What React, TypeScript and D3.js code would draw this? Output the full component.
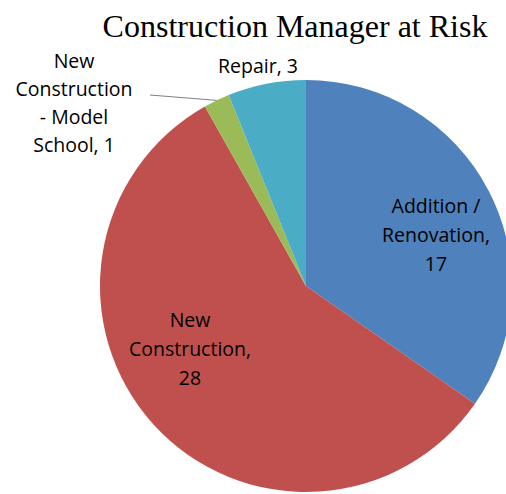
import React from "react";
import * as d3 from "d3";

const categories = [
  "Addition / Renovation",
  "New Construction",
  "New Construction - Model School",
  "Repair",
];
const values = [17, 28, 1, 3];
const colors = ["#4F81BD", "#C0504D", "#9BBB59", "#4BACC6"];

// label text lines per slice (as shown in the chart)
const labelLines = [
  ["Addition /", "Renovation,", "17"],
  ["New", "Construction,", "28"],
  ["New", "Construction", "- Model", "School, 1"],
  ["Repair, 3"],
];

const width = 506;
const height = 494;
const cx = 306;
const cy = 286;
const radius = 206;

// where each label block sits, relative to pie centre
const labelPos = [
  { x: 130, y: -73, lh: 29 },
  { x: -116, y: 41, lh: 29 },
  { x: -232, y: -218, lh: 28 },
  { x: -48, y: -213, lh: 28 },
];

export default function App() {
  const pie = d3
    .pie<number>()
    .value((d) => d)
    .sort(null);
  const arcs = pie(values);
  const arc = d3.arc<d3.PieArcDatum<number>>().innerRadius(0).outerRadius(radius);

  // leader line for the tiny slice
  const small = arcs[2];
  const mid = (small.startAngle + small.endAngle) / 2;
  const lineEnd = [Math.sin(mid) * radius, -Math.cos(mid) * radius];

  return (
    <div style={{ position: "absolute", left: 0, top: 0 }}>
      <svg width={width} height={height} style={{ display: "block", background: "#fff" }}>
        <text
          x={295}
          y={37}
          textAnchor="middle"
          fontFamily="'Liberation Serif', 'Times New Roman', serif"
          fontSize={32}
          fill="#000"
        >
          Construction Manager at Risk
        </text>
        <g transform={`translate(${cx},${cy})`}>
          {arcs.map((a, i) => (
            <path key={categories[i]} d={arc(a) || ""} fill={colors[i]} />
          ))}
          <line
            x1={-156}
            y1={-191}
            x2={lineEnd[0]}
            y2={lineEnd[1]}
            stroke="#7f7f7f"
            strokeWidth={1}
          />
          {labelLines.map((lines, i) => (
            <text
              key={i}
              textAnchor="middle"
              fontFamily="'Open Sans', sans-serif"
              fontSize={19.5}
              fill="#000"
            >
              {lines.map((t, j) => (
                <tspan key={j} x={labelPos[i].x} y={labelPos[i].y + j * labelPos[i].lh}>
                  {t}
                </tspan>
              ))}
            </text>
          ))}
        </g>
      </svg>
    </div>
  );
}
